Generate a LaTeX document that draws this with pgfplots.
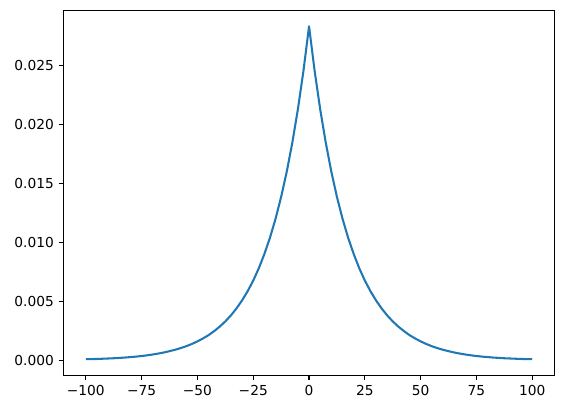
\documentclass[border=0pt]{standalone}
\usepackage{fontspec}
\setmainfont{DejaVu Sans}
\usepackage{pgfplots}
\pgfplotsset{compat=1.18}
\definecolor{mplblue}{HTML}{1F77B4}
\begin{document}
\begin{tikzpicture}
\begin{axis}[
  scale only axis,
  width=357pt, height=265.5pt,
  xmin=-110, xmax=110,
  ymin=-0.00127, ymax=0.02964,
  axis line style={line width=0.8pt},
  tick style={line width=0.8pt, black},
  tick align=outside,
  major tick length=3.5pt,
  xtick={-100,-75,-50,-25,0,25,50,75,100},
  xticklabels={−100,−75,−50,−25,0,25,50,75,100},
  ytick={0,0.005,0.01,0.015,0.02,0.025},
  yticklabels={0.000,0.005,0.010,0.015,0.020,0.025},
  xtick pos=bottom, ytick pos=left,
  scaled y ticks=false,
  tick label style={font=\fontsize{10}{12}\selectfont},
  /pgf/number format/assume math mode=true,
]
\addplot[color=mplblue, line width=1.5pt, line join=round] table {
x y
-100 0.00012
-97.5 0.00013
-95 0.00014
-92.5 0.00016
-90 0.00018
-87.5 0.00020
-85 0.00023
-82.5 0.00026
-80 0.00030
-77.5 0.00034
-75 0.00039
-72.5 0.00045
-70 0.00052
-67.5 0.00060
-65 0.00069
-62.5 0.00080
-60 0.00092
-57.5 0.00106
-55 0.00122
-52.5 0.00141
-50 0.00163
-47.5 0.00188
-45 0.00216
-42.5 0.00250
-40 0.00288
-37.5 0.00332
-35 0.00383
-32.5 0.00442
-30 0.00510
-27.5 0.00588
-25 0.00678
-22.5 0.00782
-20 0.00903
-17.5 0.01041
-15 0.01201
-12.5 0.01386
-10 0.01598
-7.5 0.01844
-5 0.02127
-2.5 0.02453
0 0.02830
2.5 0.02453
5 0.02127
7.5 0.01844
10 0.01598
12.5 0.01386
15 0.01201
17.5 0.01041
20 0.00903
22.5 0.00782
25 0.00678
27.5 0.00588
30 0.00510
32.5 0.00442
35 0.00383
37.5 0.00332
40 0.00288
42.5 0.00250
45 0.00216
47.5 0.00188
50 0.00163
52.5 0.00141
55 0.00122
57.5 0.00106
60 0.00092
62.5 0.00080
65 0.00069
67.5 0.00060
70 0.00052
72.5 0.00045
75 0.00039
77.5 0.00034
80 0.00030
82.5 0.00026
85 0.00023
87.5 0.00020
90 0.00018
92.5 0.00016
95 0.00014
97.5 0.00013
100 0.00012
};
\end{axis}
\path ([shift={(-7.2pt,-7.2pt)}]current bounding box.south west)
      ([shift={(7.2pt,7.2pt)}]current bounding box.north east);
\end{tikzpicture}
\end{document}
